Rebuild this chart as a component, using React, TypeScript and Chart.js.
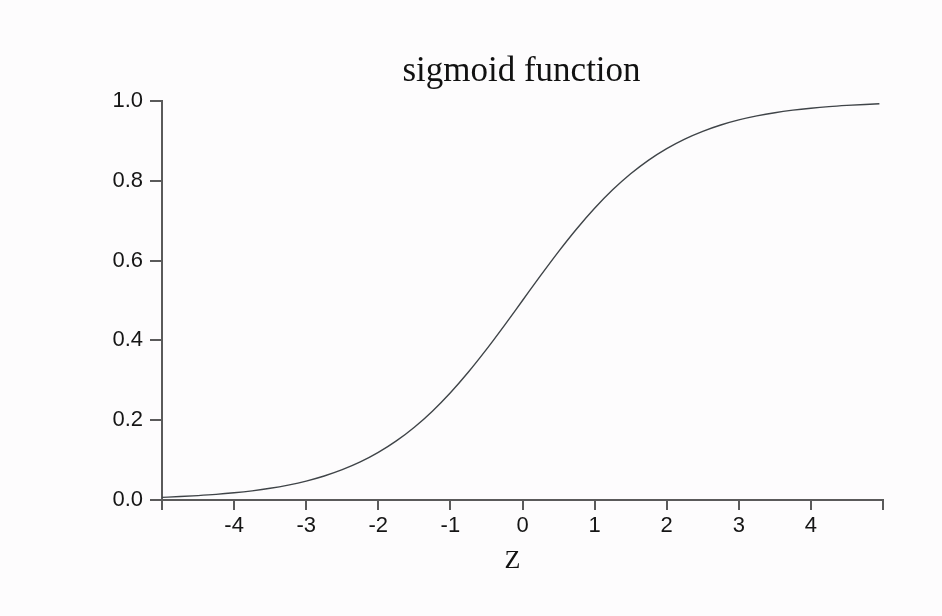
import React, { useEffect, useRef } from "react";
import { Chart, registerables } from "chart.js";

Chart.register(...registerables);

const zValues = [
  -5, -4.75, -4.5, -4.25, -4, -3.75, -3.5, -3.25, -3, -2.75, -2.5, -2.25, -2, -1.75, -1.5, -1.25, -1, -0.75, -0.5, -0.25,
  0, 0.25, 0.5, 0.75, 1, 1.25, 1.5, 1.75, 2, 2.25, 2.5, 2.75, 3, 3.25, 3.5, 3.75, 4, 4.25, 4.5, 4.75, 4.95,
];
const sigmaValues = [
  0.0067, 0.0086, 0.011, 0.014, 0.018, 0.023, 0.0293, 0.0374, 0.0474, 0.0601, 0.0759, 0.0953, 0.1192, 0.148, 0.1824,
  0.2227, 0.2689, 0.3208, 0.3775, 0.4378, 0.5, 0.5622, 0.6225, 0.6792, 0.7311, 0.7773, 0.8176, 0.852, 0.8808, 0.9047,
  0.9241, 0.9399, 0.9526, 0.9626, 0.9707, 0.977, 0.982, 0.986, 0.989, 0.9914, 0.993,
];
const xTickHidden = [-5, 5];
const chartTitle = "sigmoid function";
const xAxisTitle = "Z";

export default function App() {
  const ref = useRef<HTMLCanvasElement>(null);
  useEffect(() => {
    if (!ref.current) return;
    const axisColor = "#5a5a5a";
    const tickFont = { family: "'Liberation Sans', Arial, sans-serif", size: 22 };
    const chart = new Chart(ref.current, {
      type: "line",
      data: {
        datasets: [
          {
            data: zValues.map((z, i) => ({ x: z, y: sigmaValues[i] })),
            borderColor: "#3f4448",
            borderWidth: 1.4,
            pointRadius: 0,
            fill: false,
            tension: 0.4,
            cubicInterpolationMode: "monotone",
          },
        ],
      },
      options: {
        animation: false,
        responsive: false,
        layout: { padding: { left: 0, right: 59, top: 101, bottom: 0 } },
        plugins: {
          legend: { display: false },
          tooltip: { enabled: false },
          title: { display: false },
        },
        scales: {
          x: {
            type: "linear",
            min: -5,
            max: 5,
            afterFit: (s: any) => {
              s.height = 116;
            },
            ticks: {
              stepSize: 1,
              color: "#151515",
              padding: 3,
              font: tickFont,
              callback: (v: any) => (xTickHidden.includes(Number(v)) ? "" : String(v)),
            },
            grid: { drawOnChartArea: false, color: axisColor, tickLength: 10, lineWidth: 2 },
            border: { color: axisColor, width: 2 },
          },
          y: {
            type: "linear",
            min: 0,
            max: 1,
            afterFit: (s: any) => {
              s.width = 162;
            },
            ticks: {
              stepSize: 0.2,
              color: "#151515",
              padding: 7,
              font: tickFont,
              callback: (v: any) => Number(v).toFixed(1),
            },
            grid: { drawOnChartArea: false, color: axisColor, tickLength: 12, lineWidth: 2 },
            border: { color: axisColor, width: 2 },
          },
        },
      },
      plugins: [
        {
          id: "bg",
          beforeDraw: (c: any) => {
            const ctx = c.ctx;
            ctx.save();
            ctx.fillStyle = "#fdfcfd";
            ctx.fillRect(0, 0, c.width, c.height);
            ctx.restore();
          },
        },
        {
          id: "texts",
          afterDraw: (c: any) => {
            const ctx = c.ctx;
            const a = c.chartArea;
            const cx = (a.left + a.right) / 2;
            ctx.save();
            ctx.fillStyle = "#111";
            ctx.textAlign = "center";
            ctx.textBaseline = "middle";
            ctx.font = "35px 'Liberation Serif', serif";
            ctx.fillText(chartTitle, cx - 1, a.top - 29);
            ctx.font = "26px 'Liberation Serif', serif";
            ctx.fillText(xAxisTitle, cx - 10, a.bottom + 61);
            ctx.restore();
          },
        },
      ],
    });
    return () => chart.destroy();
  }, []);
  return (
    <div style={{ position: "fixed", left: 0, top: 0, width: 942, height: 616 }}>
      <canvas ref={ref} width={942} height={616} style={{ width: 942, height: 616 }} />
    </div>
  );
}
